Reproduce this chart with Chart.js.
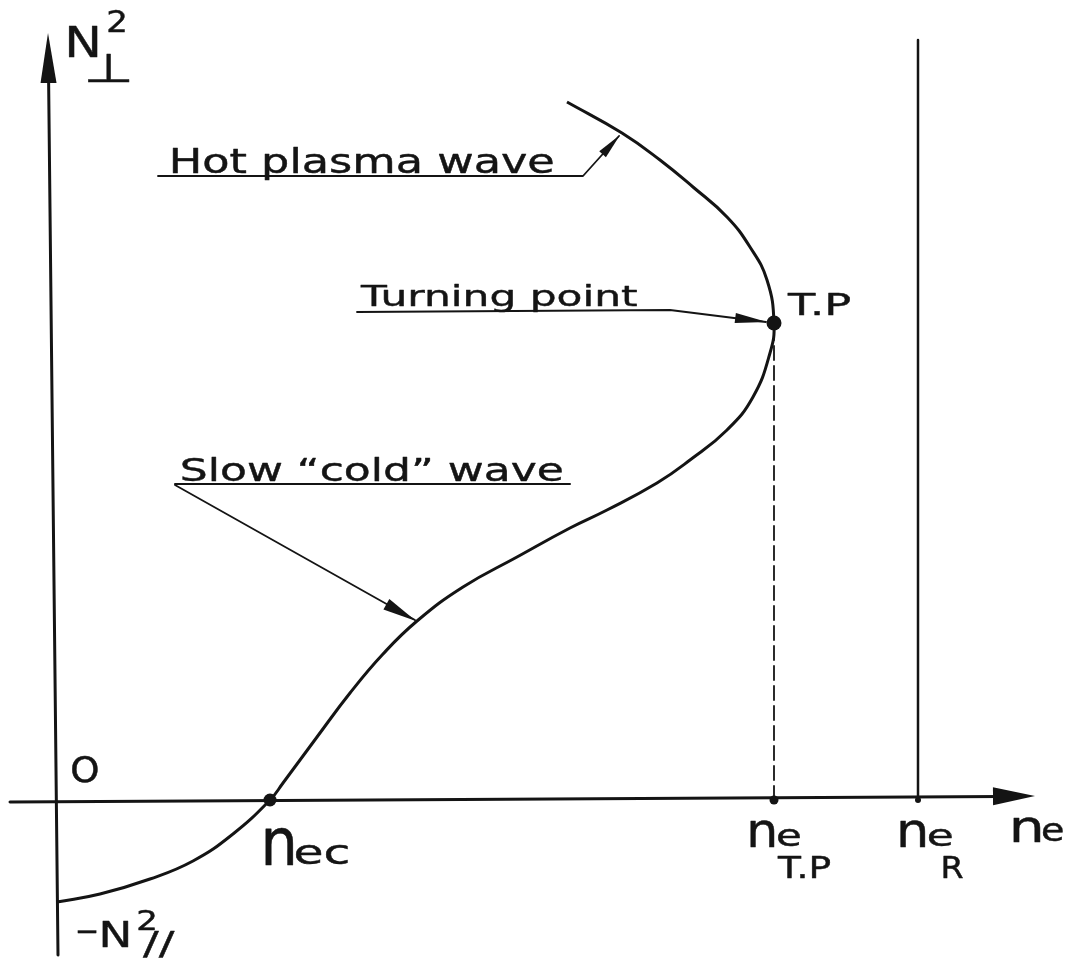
<!DOCTYPE html>
<html>
<head>
<meta charset="utf-8">
<title>Slow wave dispersion – turning point</title>
<script src="https://cdn.jsdelivr.net/npm/chart.js@4/dist/chart.umd.min.js"></script>
<style>
  html, body { margin: 0; padding: 0; background: #fff; }
  #wrap { width: 1072px; height: 963px; position: relative; }
</style>
</head>
<body>
<div id="wrap"><canvas id="dispChart"></canvas></div>
<script>
/* ── Data (ne in arbitrary density units, N² in arbitrary units) ── */
const curveNe = [0, 0.43, 0.93, 1.36, 1.76, 2.13, 2.26, 2.60, 2.93, 3.26, 3.60, 4.06, 4.60, 5.13,
                 5.50, 6.00, 6.33, 6.70, 6.96, 7.13, 7.17, 7.10, 6.93, 6.70, 6.36, 6.03, 5.65, 5.10];
const curveN2 = [-1.02, -0.94, -0.79, -0.61, -0.34, 0, 0.17, 0.63, 1.07, 1.46, 1.79, 2.13, 2.43, 2.72,
                 2.90, 3.17, 3.40, 3.70, 4.03, 4.47, 4.77, 5.20, 5.53, 5.83, 6.13, 6.40, 6.67, 6.98];

const neCutoff  = 2.13;   // n_ec, where N⊥² crosses zero
const neTurning = 7.17;   // n_e at the turning point
const n2Turning = 4.77;   // N⊥² at the turning point
const neRes     = 8.61;   // n_e R (vertical asymptote)
const n2ResTop  = 7.60;

const neRange = [-0.57, 10.15];
const n2Range = [-1.63, 8.00];

// curve indices the leader arrows point at
const hotIdx  = 26;
const coldIdx = 10;

const INK  = '#141414';
const FONT = '"DejaVu Sans", sans-serif';

/* ── helpers ── */
// draws text stretched so its ink spans x1..x2 and y1..y2
// (byBaseline: y2 is the baseline, descenders hang below it)
function fitText(ctx, text, x1, y1, x2, y2, opts = {}) {
  ctx.save();
  ctx.font = '40px ' + FONT;
  ctx.textAlign = 'left';
  ctx.textBaseline = 'alphabetic';
  const m = ctx.measureText(text);
  const w = m.actualBoundingBoxLeft + m.actualBoundingBoxRight;
  const h = opts.byBaseline ? m.actualBoundingBoxAscent
                            : m.actualBoundingBoxAscent + m.actualBoundingBoxDescent;
  const sx = (x2 - x1) / w, sy = (y2 - y1) / h;
  ctx.translate(x1, y1);
  ctx.scale(sx, sy);
  ctx.fillStyle = INK;
  ctx.strokeStyle = INK;
  ctx.lineJoin = 'round';
  ctx.lineWidth = (opts.weight || 0.5) / Math.sqrt(sx * sy);
  ctx.fillText(text, m.actualBoundingBoxLeft, m.actualBoundingBoxAscent);
  ctx.strokeText(text, m.actualBoundingBoxLeft, m.actualBoundingBoxAscent);
  ctx.restore();
}

function arrowHead(ctx, fx, fy, tx, ty, len, half) {
  const a = Math.atan2(ty - fy, tx - fx);
  const bx = tx - Math.cos(a) * len, by = ty - Math.sin(a) * len;
  ctx.beginPath();
  ctx.moveTo(tx, ty);
  ctx.lineTo(bx + Math.sin(a) * half, by - Math.cos(a) * half);
  ctx.lineTo(bx - Math.sin(a) * half, by + Math.cos(a) * half);
  ctx.closePath();
  ctx.fillStyle = INK;
  ctx.fill();
}

function polyline(ctx, pts, width, dash) {
  ctx.save();
  ctx.beginPath();
  pts.forEach(([x, y], i) => i ? ctx.lineTo(x, y) : ctx.moveTo(x, y));
  ctx.lineWidth = width;
  ctx.strokeStyle = INK;
  ctx.lineCap = 'round';
  ctx.lineJoin = 'round';
  if (dash) ctx.setLineDash(dash);
  ctx.stroke();
  ctx.restore();
}

/* ── axes, asymptote and dashed drop line ── */
const axesPlugin = {
  id: 'sketchAxes',
  beforeDraw(chart) {
    const { ctx } = chart;
    ctx.save();
    ctx.fillStyle = '#fff';
    ctx.fillRect(0, 0, chart.width, chart.height);
    ctx.restore();
  },
  beforeDatasetsDraw(chart) {
    const { ctx, scales: { x, y } } = chart;
    const P = (a, b) => [x.getPixelForValue(a), y.getPixelForValue(b)];

    // vertical axis N⊥²
    const yBot = P(0.01, -1.55), yTop = P(-0.09, 7.67);
    polyline(ctx, [yBot, P(-0.085, 7.3)], 3);
    arrowHead(ctx, yBot[0], yBot[1], yTop[0], yTop[1], 50, 8);

    // horizontal axis ne
    const xL = P(-0.47, -0.02), xR = P(9.78, 0.04);
    polyline(ctx, [xL, P(9.45, 0.035)], 3);
    arrowHead(ctx, xL[0], xL[1], xR[0], xR[1], 42, 9);

    // resonance line
    polyline(ctx, [P(neRes, 0), P(neRes, n2ResTop)], 2.5);

    // dashed drop from turning point
    polyline(ctx, [P(neTurning, 0), P(neTurning, n2Turning - 0.08)], 1.8, [14, 6]);
  },
  afterDatasetsDraw(chart) {
    const { ctx, scales: { x, y } } = chart;
    const P = (a, b) => [x.getPixelForValue(a), y.getPixelForValue(b)];
    const base = { byBaseline: true };

    // Hot plasma wave label + leader
    const hot = P(curveNe[hotIdx], curveN2[hotIdx]);
    fitText(ctx, 'Hot plasma wave', 172, 147, 553, 173, base);
    polyline(ctx, [[158, 176], [583, 176], [hot[0] - 3, hot[1] + 3]], 1.8);
    arrowHead(ctx, 583, 176, hot[0] - 2, hot[1] + 2, 26, 4.5);

    // Turning point label + leader
    const tp = P(neTurning, n2Turning);
    fitText(ctx, 'Turning point', 360, 284, 637, 306, base);
    polyline(ctx, [[357, 312], [670, 310], [tp[0] - 8, tp[1] - 1]], 1.8);
    arrowHead(ctx, 670, 310, tp[0] - 7, tp[1] - 1, 32, 5);
    fitText(ctx, 'T.P', 787, 292, 850, 315);

    // Slow "cold" wave label + leader
    const cold = P(curveNe[coldIdx], curveN2[coldIdx]);
    fitText(ctx, 'Slow \u201Ccold\u201D wave', 182, 456, 562, 481, base);
    polyline(ctx, [[175, 484], [570, 484]], 2);
    polyline(ctx, [[175, 485], [cold[0] - 2, cold[1] - 1]], 1.8);
    arrowHead(ctx, 175, 485, cold[0] - 1, cold[1], 34, 6);

    // axis labels
    fitText(ctx, 'N', 68, 25, 97, 57);
    fitText(ctx, '\u22A5', 88, 53, 130, 82);
    fitText(ctx, '2', 108, 8, 125, 32);
    fitText(ctx, 'O', 72, 755, 98, 783);

    fitText(ctx, '\u2212', 78, 930, 97, 934, { weight: 0.3 });
    fitText(ctx, 'N', 102, 920, 128, 947);
    fitText(ctx, '2', 138, 910, 155, 930);
    fitText(ctx, '//', 143, 930, 175, 957);

    // n_ec
    fitText(ctx, 'n', 265, 827, 293, 865);
    fitText(ctx, 'ec', 296, 845, 348, 865);

    // n_e T.P
    fitText(ctx, 'n', 750, 819, 774, 847);
    fitText(ctx, 'e', 778, 829, 800, 847);
    fitText(ctx, 'T.P', 777, 855, 830, 878);

    // n_e R
    fitText(ctx, 'n', 900, 819, 925, 847);
    fitText(ctx, 'e', 929, 829, 952, 847);
    fitText(ctx, 'R', 943, 855, 963, 878);

    // n_e axis title
    fitText(ctx, 'n', 1013, 816, 1040, 842);
    fitText(ctx, 'e', 1043, 823, 1063, 842);
  }
};

/* ── Chart ── */
const curve = curveNe.map((v, i) => ({ x: v, y: curveN2[i] }));
const marks = [
  { x: neCutoff,  y: 0 },
  { x: neTurning, y: n2Turning },
  { x: neTurning, y: 0 },
  { x: neRes,     y: 0 }
];

new Chart(document.getElementById('dispChart'), {
  type: 'scatter',
  data: {
    datasets: [
      {
        label: 'N⊥²(ne)',
        data: curve,
        showLine: true,
        tension: 0.45,
        borderColor: INK,
        borderWidth: 3,
        pointRadius: 0,
        order: 2
      },
      {
        label: 'marks',
        data: marks,
        showLine: false,
        pointRadius: [6.5, 7.5, 4.5, 3],
        pointBackgroundColor: INK,
        pointBorderWidth: 0,
        order: 1
      }
    ]
  },
  options: {
    responsive: true,
    maintainAspectRatio: false,
    animation: false,
    events: [],
    layout: { padding: 0, autoPadding: false },
    plugins: { legend: { display: false }, tooltip: { enabled: false } },
    scales: {
      x: { type: 'linear', min: neRange[0], max: neRange[1], display: false },
      y: { type: 'linear', min: n2Range[0], max: n2Range[1], display: false }
    }
  },
  plugins: [axesPlugin]
});
</script>
</body>
</html>
